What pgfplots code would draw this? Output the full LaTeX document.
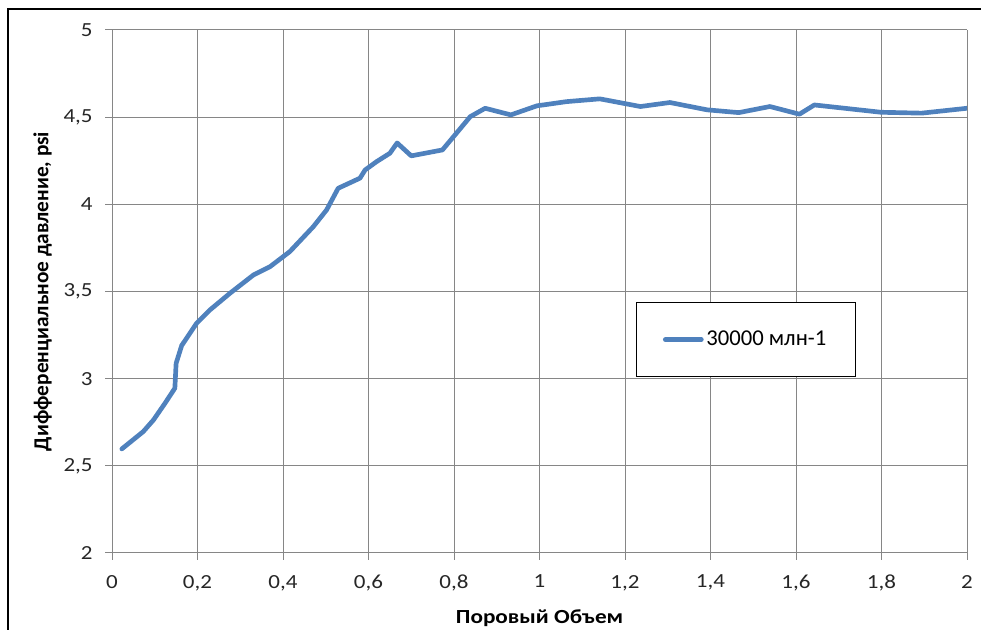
\documentclass[border=0pt]{standalone}
\usepackage{pgfplots}
\pgfplotsset{compat=1.18}
\usepackage{fontspec}
\setmainfont{Carlito}
\newfontfamily\tickfont{Carlito}[FakeStretch=1.15]
\newfontfamily\xlabfont{Carlito}[FakeStretch=1.16]
\definecolor{serblue}{RGB}{79,129,189}
\definecolor{gridgray}{RGB}{134,134,134}
\begin{document}
\begin{tikzpicture}[x=1pt,y=1pt]
\useasboundingbox (0,0) rectangle (735.75,472.5);
\draw[line width=1.6pt,black] (6,0) -- (6,465.5) -- (735.75,465.5);
\begin{axis}[
  at={(84pt,57.75pt)}, anchor=south west,
  scale only axis, width=641.25pt, height=392.25pt,
  xmin=0, xmax=2, ymin=2, ymax=5,
  xtick={0,0.2,0.4,0.6,0.8,1,1.2,1.4,1.6,1.8,2},
  xticklabels={0,{0,2},{0,4},{0,6},{0,8},1,{1,2},{1,4},{1,6},{1,8},2},
  ytick={2,2.5,3,3.5,4,4.5,5},
  yticklabels={2,{2,5},3,{3,5},4,{4,5},5},
  tick label style={font=\tickfont\fontsize{15}{17}\selectfont, text=black!85},
  xticklabel style={yshift=-8pt},
  yticklabel style={xshift=-6pt},
  grid=major,
  major grid style={gridgray, line width=0.75pt},
  axis line style={gridgray, line width=0.75pt},
  tick style={gridgray, line width=0.75pt},
  tick align=outside, major tick length=5pt,
  axis x line*=bottom, axis y line*=left,
  xlabel={\xlabfont\bfseries Поровый Объем},
  ylabel={\textbf{Дифференциальное давление, psi}},
  xlabel style={font=\fontsize{15}{17}\selectfont, yshift=-7pt},
  ylabel style={font=\fontsize{16}{18}\selectfont, yshift=2pt},
  legend style={at={(0.7415,0.408)}, anchor=center, draw=black, line width=1pt,
    inner xsep=20pt, inner ysep=19.5pt, font=\fontsize{17}{19}\selectfont,
    /tikz/every even column/.append style={column sep=1pt}},
  legend image code/.code={\draw[#1, line width=3.5pt, line cap=round] (0pt,0pt) -- (27pt,0pt);},
]
\addplot[serblue, line width=3.5pt, line join=round, line cap=round] coordinates {
(0.023,2.597) (0.073,2.696) (0.097,2.763) (0.124,2.859) (0.147,2.945)
(0.150,3.088) (0.163,3.19) (0.198,3.318) (0.229,3.394) (0.276,3.49)
(0.331,3.595) (0.370,3.643) (0.416,3.729) (0.471,3.872) (0.502,3.968)
(0.529,4.092) (0.580,4.15) (0.592,4.197) (0.619,4.245) (0.650,4.293)
(0.667,4.352) (0.700,4.278) (0.773,4.312) (0.838,4.503) (0.873,4.551)
(0.933,4.513) (0.994,4.565) (1.063,4.589) (1.141,4.605) (1.236,4.561)
(1.305,4.584) (1.392,4.542) (1.466,4.526) (1.539,4.561) (1.608,4.517)
(1.643,4.570) (1.799,4.528) (1.894,4.523) (2.0,4.551)
};
\addlegendentry{30000 млн-1}
\end{axis}
\end{tikzpicture}
\end{document}
